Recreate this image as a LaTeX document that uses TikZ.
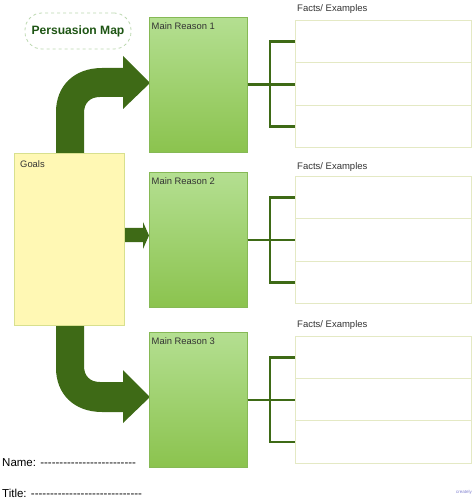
\documentclass[tikz,border=0pt]{standalone}
\usepackage{fontspec}
\setmainfont{Liberation Sans}
\newfontfamily\formfont{Liberation Sans}[Ligatures=TeXOff]
\definecolor{arrowgreen}{HTML}{3E6A16}
\definecolor{lightgreen}{HTML}{B4DF91}
\definecolor{midgreen}{HTML}{8BC34E}
\definecolor{mrborder}{HTML}{86B955}
\definecolor{goalfill}{HTML}{FFF8B4}
\definecolor{goalborder}{HTML}{D8E08E}
\definecolor{factborder}{HTML}{E4E9C4}
\definecolor{titlegreen}{HTML}{1E5514}
\definecolor{dashgreen}{HTML}{BCD8B0}
\definecolor{txtgray}{HTML}{333333}
\tikzset{
  reasonbox/.style={draw=mrborder, line width=0.6pt, top color=lightgreen, bottom color=midgreen, minimum width=98pt, minimum height=135pt, inner sep=0pt, anchor=north west},
  reasonlabel/.style={anchor=north west, inner sep=0pt, xshift=2.5pt, yshift=-5.5pt, font=\fontsize{9.4}{11}\selectfont, text=txtgray},
  factbox/.style={draw=factborder, line width=0.8pt, fill=white, minimum width=176pt, inner sep=0pt, anchor=north west},
  factlabel/.style={anchor=west, font=\fontsize{9.5}{11}\selectfont, text=txtgray, inner sep=0pt},
  conn/.style={draw=arrowgreen, line width=2.6pt},
  bigarrow/.style={fill=arrowgreen, draw=none},
  formtext/.style={anchor=west, font=\formfont\fontsize{11.5}{13}\selectfont, text=black, inner sep=0pt}
}
\begin{document}
\begin{tikzpicture}[x=1pt,y=-1pt]
\useasboundingbox (0,0) rectangle (474,502);

% title
\node[draw=dashgreen, dashed, line width=0.8pt, rounded corners=17pt, minimum width=106pt, minimum height=36pt, font=\bfseries\fontsize{12.1}{14}\selectfont, text=titlegreen] (title) at (78,31) {Persuasion Map};

% arrows (shapes)
\fill[bigarrow] (56,153) -- (56,112) .. controls (56,86) and (74,68) .. (102,68) -- (123,68) -- (123,56) -- (150,83) -- (123,109) -- (123,97) -- (100,97) .. controls (90,97) and (84,103) .. (84,113) -- (84,153) -- cycle;
\fill[bigarrow] (56,325) -- (56,368) .. controls (56,394) and (74,412) .. (102,412) -- (123,412) -- (123,423) -- (150,397) -- (123,370) -- (123,382) -- (100,382) .. controls (90,382) and (84,376) .. (84,366) -- (84,325) -- cycle;
\fill[bigarrow] (124,228) -- (143,228) -- (143,222) -- (149,235.5) -- (143,249) -- (143,242) -- (124,242) -- cycle;

% goals
\node[draw=goalborder, line width=0.8pt, fill=goalfill, minimum width=110pt, minimum height=172pt, inner sep=0pt, anchor=north west] (goals) at (14,153) {};
\node[anchor=north west, inner sep=0pt, font=\fontsize{9.4}{11}\selectfont, text=txtgray] (goalstxt) at (20,160.5) {Goals};

% main reasons
\node[reasonbox] (mr1) at (149,17) {};
\node[reasonbox] (mr2) at (149,172) {};
\node[reasonbox] (mr3) at (149,332) {};
\node[reasonlabel] (mr1t) at (mr1.north west) {Main Reason 1};
\node[reasonlabel] (mr2t) at (mr2.north west) {Main Reason 2};
\node[reasonlabel] (mr3t) at (mr3.north west) {Main Reason 3};

% facts group 1
\node[factbox, minimum height=42pt] (f1a) at (295,20) {};
\node[factbox, minimum height=43pt] (f1b) at (295,62) {};
\node[factbox, minimum height=42pt] (f1c) at (295,105) {};
\node[factlabel] (f1t) at (297,9.5) {Facts/ Examples};
% facts group 2
\node[factbox, minimum height=42pt] (f2a) at (295,176) {};
\node[factbox, minimum height=43pt] (f2b) at (295,218) {};
\node[factbox, minimum height=42pt] (f2c) at (295,261) {};
\node[factlabel] (f2t) at (297,167.5) {Facts/ Examples};
% facts group 3
\node[factbox, minimum height=42pt] (f3a) at (295,336) {};
\node[factbox, minimum height=42pt] (f3b) at (295,378) {};
\node[factbox, minimum height=43pt] (f3c) at (295,420) {};
\node[factlabel] (f3t) at (297,325.5) {Facts/ Examples};

% connectors
\coordinate (j1) at (270,83);
\coordinate (j2) at (270,239.5);
\coordinate (j3) at (270,399);
\draw[conn] (mr1.east) -- (f1b.west |- mr1.east);
\draw[conn] (f1a.west) -| (j1) |- (f1c.west);
\draw[conn] (mr2.east) -- (f2b.west |- mr2.east);
\draw[conn] (f2a.west) -| (j2) |- (f2c.west);
\draw[conn] (mr3.east) -- (f3b.west |- mr3.east);
\draw[conn] (f3a.west) -| (j3) |- (f3c.west);

% form fields
\node[formtext] (name) at (2,463) {Name: -------------------------};
\node[formtext] (ttl) at (2,493) {Title: -----------------------------};

% watermark
\node[anchor=east, inner sep=0pt, font=\fontsize{4.5}{5}\selectfont, text=blue!45!gray!70] (logo) at (472,492) {creately};
\end{tikzpicture}
\end{document}
